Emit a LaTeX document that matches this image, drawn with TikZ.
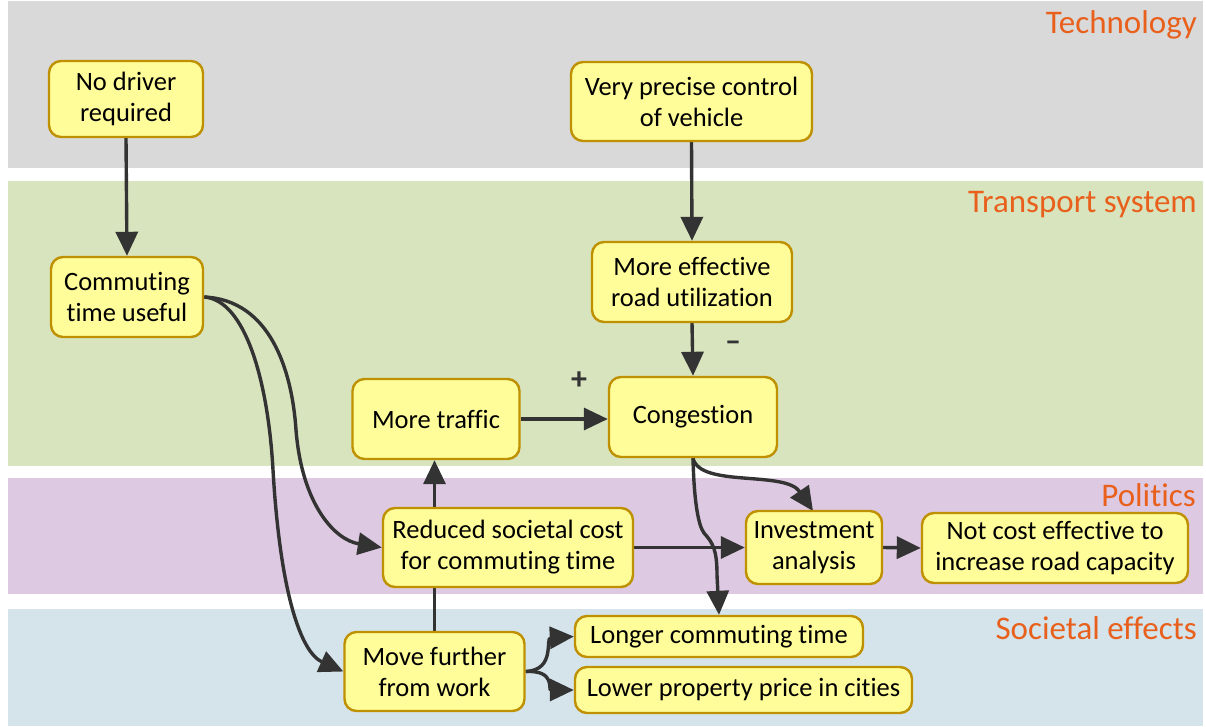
\documentclass[tikz,border=0pt]{standalone}
\usepackage{fontspec}
\setmainfont[Ligatures={NoCommon}]{Carlito}
\usetikzlibrary{arrows.meta}
\definecolor{bandgray}{RGB}{217,217,217}
\definecolor{bandgreen}{RGB}{216,228,190}
\definecolor{bandpurple}{RGB}{221,201,225}
\definecolor{bandblue}{RGB}{213,228,235}
\definecolor{boxfill}{RGB}{255,253,153}
\definecolor{boxline}{RGB}{191,144,0}
\definecolor{arrowc}{RGB}{51,51,51}
\definecolor{titlec}{RGB}{232,96,28}
\pgfdeclarelayer{bandlayer}
\pgfdeclarelayer{edgelayer}
\pgfsetlayers{bandlayer,edgelayer,main}
\begin{document}
\begin{tikzpicture}[x=1pt,y=-1pt,
  box/.style={draw=boxline, fill=boxfill, line width=2.4pt, rounded corners=12pt, align=center, inner sep=0pt, font=\fontsize{26.5}{31}\selectfont, text=black},
  conn/.style={draw=arrowc, line width=3.4pt, -{Triangle[length=24pt,width=22pt]}},
  bandtitle/.style={anchor=base east, text=titlec, font=\fontsize{33}{38}\selectfont, inner sep=0pt},
  sign/.style={text=arrowc, font=\fontsize{32}{36}\selectfont\bfseries, inner sep=0pt}]
\useasboundingbox (0,0) rectangle (1206,726);
\begin{pgfonlayer}{bandlayer}
\fill[white] (0,0) rectangle (1206,726);
\fill[bandgray] (8,1) rectangle (1203,168);
\fill[bandgreen] (8,181) rectangle (1203,466);
\fill[bandpurple] (8,478) rectangle (1203,594);
\fill[bandblue] (8,609) rectangle (1203,726);
\end{pgfonlayer}
\node[bandtitle] (ttech) at (1197,33) {Technology};
\node[bandtitle] (ttrans) at (1197,212) {Transport system};
\node[bandtitle] (tpol) at (1196,506) {Politics};
\node[bandtitle] (tsoc) at (1197,639) {Societal effects};

\node[box, minimum width=154pt, minimum height=76pt] (nodriver) at (126,99) {No driver\\required};
\node[box, minimum width=241pt, minimum height=79pt] (precise) at (691.5,101.5) {Very precise control\\of vehicle};
\node[box, minimum width=152pt, minimum height=80pt] (commuting) at (127,297) {Commuting\\time useful};
\node[box, minimum width=200pt, minimum height=80pt] (effective) at (692,282) {More effective\\road utilization};
\node[box, minimum width=167pt, minimum height=80pt] (traffic) at (436,419) {More traffic};
\node[box, minimum width=168pt, minimum height=80pt] (congestion) at (693,417) {Congestion};
\node[box, minimum width=250pt, minimum height=79pt] (reduced) at (508,547.5) {Reduced societal cost\\for commuting time};
\node[box, minimum width=136pt, minimum height=73pt] (invest) at (814,547.5) {Investment\\analysis};
\node[box, minimum width=266pt, minimum height=70pt] (notcost) at (1055,548) {Not cost effective to\\increase road capacity};
\node[box, minimum width=180pt, minimum height=79pt] (move) at (434.5,671.5) {Move further\\from work};
\node[box, minimum width=288pt, minimum height=41pt] (longer) at (719,636.5) {Longer commuting time};
\node[box, minimum width=337pt, minimum height=46pt] (lower) at (743.5,690) {Lower property price in cities};

\node[sign] (minus) at (733,346) {–};
\node[sign] (plus) at (579,381) {+};

\begin{pgfonlayer}{edgelayer}
\draw[conn] (nodriver.south) -- (commuting.north);
\draw[conn] (precise.south) -- (effective.north);
\draw[conn] (effective.south) -- (congestion.north);
\draw[conn] (traffic.east) -- (traffic.east -| congestion.west);
\draw[conn] (move.north) -- (traffic.south -| move.north);
\draw[conn] (reduced.east) -- (invest.west);
\draw[conn] (invest.east) -- (notcost.west);
\draw[conn] (commuting.east) .. controls (270,300) and (292,370) .. (296,430) .. controls (302,505) and (335,540) .. (reduced.west);
\draw[conn] (commuting.east) .. controls (245,300) and (268,380) .. (273,470) .. controls (280,590) and (300,652) .. (move.west);
\draw[conn] (congestion.south) .. controls (700,488) and (785,470) .. (813,511);
\draw[conn] (congestion.south) .. controls (694,500) and (698,525) .. (704,533) .. controls (713,543) and (717,550) .. (717,575) -- (longer.north);
\draw[conn] (move.east) .. controls (556,670) and (545,638) .. (longer.west);
\draw[conn] (move.east) .. controls (556,670) and (548,690) .. (lower.west);
\end{pgfonlayer}
\end{tikzpicture}
\end{document}
